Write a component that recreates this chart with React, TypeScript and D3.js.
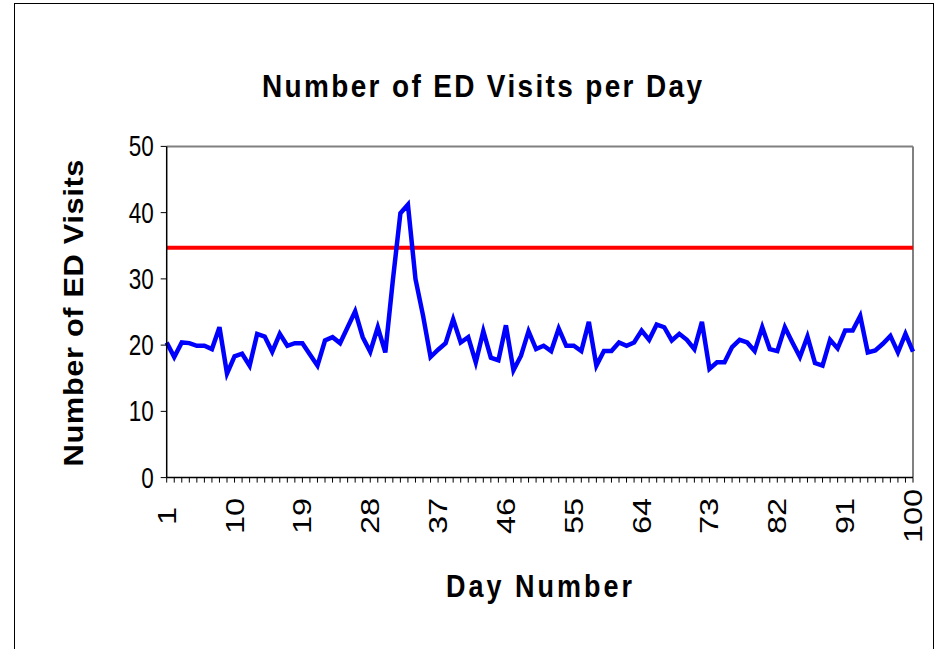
import React from "react";
import * as d3 from "d3";

// Daily emergency-department visit counts, days 1..100
const days: number[] = Array.from({ length: 100 }, (_, i) => i + 1);
const visits: number[] = [
  20.4, 18.2, 20.4, 20.3, 19.9, 19.9, 19.4, 22.7, 15.7, 18.3,
  18.7, 16.9, 21.7, 21.3, 19.0, 21.7, 19.9, 20.3, 20.3, 18.6,
  16.9, 20.7, 21.2, 20.3, 22.7, 25.1, 21.2, 19.0, 22.7, 18.9,
  29.8, 39.9, 41.2, 30.0, 24.5, 18.2, 19.3, 20.3, 23.9, 20.4,
  21.2, 17.4, 22.1, 18.1, 17.7, 23.0, 16.2, 18.4, 22.1, 19.4,
  19.9, 19.1, 22.5, 19.9, 19.9, 19.1, 23.5, 16.9, 19.1, 19.1,
  20.4, 19.9, 20.4, 22.2, 20.8, 23.1, 22.7, 20.7, 21.7, 20.8,
  19.4, 23.5, 16.4, 17.4, 17.4, 19.7, 20.8, 20.4, 19.1, 22.7,
  19.4, 19.1, 22.7, 20.4, 18.2, 21.3, 17.3, 16.9, 20.8, 19.5,
  22.2, 22.2, 24.4, 18.9, 19.2, 20.2, 21.4, 18.9, 21.7, 19.0,
];
// Alert threshold
const threshold: number[] = [34.7];

const yTicks: number[] = [0, 10, 20, 30, 40, 50];
const xTickLabels: number[] = [1, 10, 19, 28, 37, 46, 55, 64, 73, 82, 91, 100];

const chartTitle = "Number of ED Visits per Day";
const xTitle = "Day Number";
const yTitle = "Number of ED Visits";

const W = 942;
const H = 649;
const plot = { left: 166.7, right: 913, top: 146.4, bottom: 477.6 };
const FONT = "'Liberation Sans', Arial, sans-serif";
// text glyphs are drawn slightly taller than wide
const STRETCH = 1.3;

export default function App() {
  const x = d3.scaleLinear().domain([1, 100]).range([plot.left, plot.right]);
  const y = d3.scaleLinear().domain([0, 50]).range([plot.bottom, plot.top]);

  const line = d3
    .line<number>()
    .x((_, i) => x(days[i]))
    .y((d) => y(d));

  return (
    <svg
      width={W}
      height={H}
      style={{ position: "absolute", left: 0, top: 0, background: "#fff" }}
      fontFamily={FONT}
    >
      <rect x={0} y={0} width={W} height={H} fill="#fff" />
      {/* chart frame */}
      <rect x={14.5} y={3.5} width={919} height={700} fill="none" stroke="#000" strokeWidth={1} />

      {/* title */}
      <text
        transform={`translate(482,97) scale(1,1.12)`}
        textAnchor="middle"
        fontSize={28}
        fontWeight="bold"
        textLength={440}
        lengthAdjust="spacing"
      >
        {chartTitle}
      </text>

      {/* plot border (top and right) */}
      <line x1={plot.left} y1={plot.top} x2={plot.right} y2={plot.top} stroke="#808080" strokeWidth={2} />
      <line x1={plot.right} y1={plot.top} x2={plot.right} y2={plot.bottom} stroke="#808080" strokeWidth={2} />

      {/* threshold line */}
      {threshold.map((t, i) => (
        <line key={i} x1={plot.left} x2={plot.right} y1={y(t)} y2={y(t)} stroke="#ff0000" strokeWidth={4} />
      ))}

      {/* series */}
      <path d={line(visits) || ""} fill="none" stroke="#0000ff" strokeWidth={4.5} strokeLinejoin="miter" />

      {/* y axis */}
      <line x1={plot.left} y1={plot.top} x2={plot.left} y2={plot.bottom} stroke="#000" strokeWidth={1.5} />
      {yTicks.map((t) => (
        <g key={t}>
          <line x1={plot.left - 6} x2={plot.left} y1={y(t)} y2={y(t)} stroke="#000" strokeWidth={1} />
          <text
            transform={`translate(${plot.left - 13},${y(t) + 10}) scale(1,${STRETCH})`}
            textAnchor="end"
            fontSize={22.5}
          >
            {t}
          </text>
        </g>
      ))}

      {/* x axis */}
      <line x1={plot.left} y1={plot.bottom} x2={plot.right} y2={plot.bottom} stroke="#000" strokeWidth={1.5} />
      {days.map((d) => (
        <line key={d} x1={x(d)} x2={x(d)} y1={plot.bottom} y2={plot.bottom + 5} stroke="#000" strokeWidth={1} />
      ))}
      {xTickLabels.map((d) => (
        <text
          key={d}
          transform={`translate(${x(d) + 9},516) rotate(-90) scale(${STRETCH},1)`}
          textAnchor="middle"
          fontSize={25}
        >
          {d}
        </text>
      ))}

      {/* axis titles */}
      <text
        transform={`translate(539,597) scale(1,1.15)`}
        textAnchor="middle"
        fontSize={27}
        fontWeight="bold"
        textLength={186}
        lengthAdjust="spacing"
      >
        {xTitle}
      </text>
      <text
        transform={`translate(83,313) rotate(-90) scale(1.1,1)`}
        textAnchor="middle"
        fontSize={28}
        fontWeight="bold"
        textLength={279}
        lengthAdjust="spacing"
      >
        {yTitle}
      </text>
    </svg>
  );
}
